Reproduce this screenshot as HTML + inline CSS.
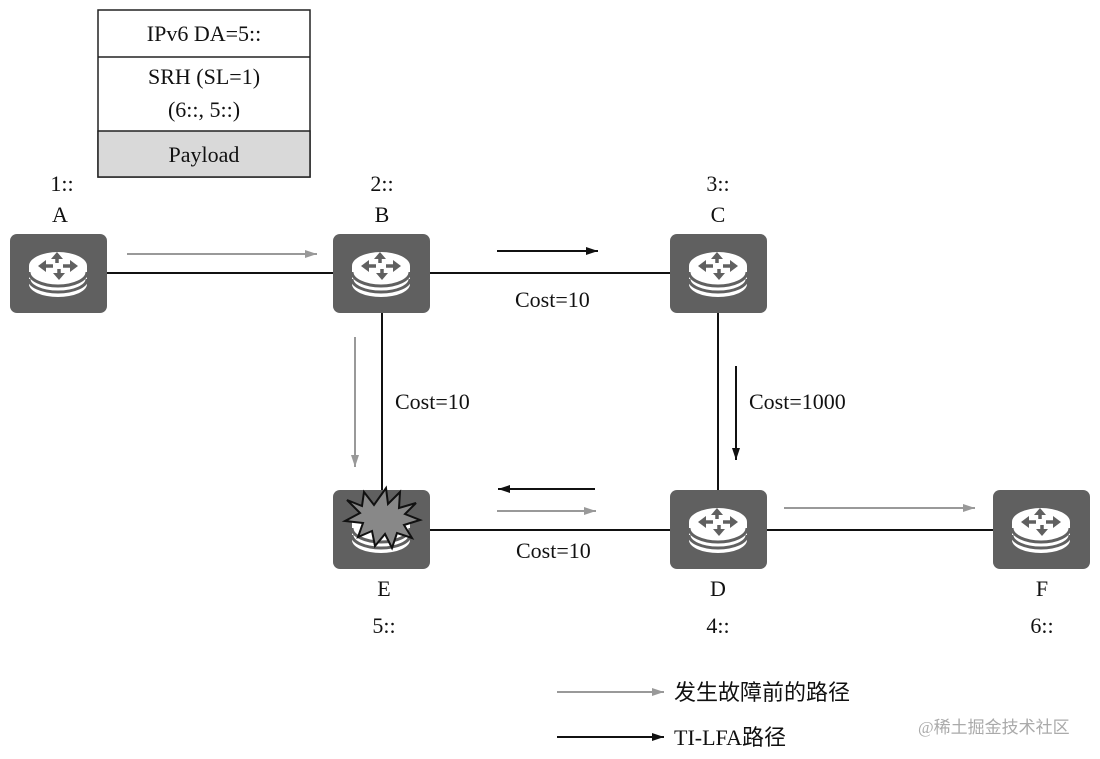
<!DOCTYPE html>
<html><head><meta charset="utf-8"><style>
body{margin:0;background:#fff;}
svg{display:block;}
text{font-family:"Liberation Serif",serif;font-size:22px;fill:#111;}
.cn{font-family:"Liberation Serif","Noto Sans CJK SC",sans-serif;}
</style></head><body>
<svg width="1100" height="759" viewBox="0 0 1100 759" xmlns="http://www.w3.org/2000/svg">
<defs>
<marker id="ag" markerWidth="12" markerHeight="8" refX="12" refY="4" orient="auto" markerUnits="userSpaceOnUse"><path d="M0,0 L12,4 L0,8 Z" fill="#999"/></marker>
<marker id="ab" markerWidth="12" markerHeight="8" refX="12" refY="4" orient="auto" markerUnits="userSpaceOnUse"><path d="M0,0 L12,4 L0,8 Z" fill="#111"/></marker>
<g id="rt">
<rect x="0" y="0" width="97" height="79" rx="7" fill="#606060"/>
<path d="M19,32 v18 a29,13 0 0 0 58,0 v-18 Z" fill="#fff"/>
<path d="M19,38 a29,14 0 0 0 58,0" fill="none" stroke="#606060" stroke-width="3"/>
<path d="M19,45 a29,13 0 0 0 58,0" fill="none" stroke="#606060" stroke-width="3"/>
<ellipse cx="48" cy="32" rx="29" ry="14" fill="#fff"/>
<g stroke="#606060" stroke-width="3.5" fill="none">
<line x1="33" y1="32" x2="43" y2="32"/><line x1="53" y1="32" x2="63" y2="32"/>
<line x1="47" y1="23" x2="47" y2="29"/><line x1="49" y1="35" x2="49" y2="41"/>
</g>
<path d="M28,32 l8,-6 v12 Z M68,32 l-8,-6 v12 Z M47,18 l-6,7 h12 Z M49,46 l-6,-7 h12 Z" fill="#606060"/>
</g>
</defs>

<rect x="98" y="10" width="212" height="167" fill="#fff" stroke="#222" stroke-width="1.5"/>
<rect x="98" y="131" width="212" height="46" fill="#d9d9d9" stroke="#222" stroke-width="1.5"/>
<line x1="98" y1="57" x2="310" y2="57" stroke="#222" stroke-width="1.5"/>
<text x="204" y="41" text-anchor="middle">IPv6 DA=5::</text>
<text x="204" y="84" text-anchor="middle">SRH (SL=1)</text>
<text x="204" y="117" text-anchor="middle">(6::, 5::)</text>
<text x="204" y="162" text-anchor="middle">Payload</text>

<g stroke="#111" stroke-width="2">
<line x1="107" y1="273" x2="333" y2="273"/>
<line x1="430" y1="273" x2="670" y2="273"/>
<line x1="382" y1="313" x2="382" y2="490"/>
<line x1="718" y1="313" x2="718" y2="490"/>
<line x1="430" y1="530" x2="670" y2="530"/>
<line x1="767" y1="530" x2="993" y2="530"/>
</g>

<use href="#rt" x="10" y="234"/>
<use href="#rt" x="333" y="234"/>
<use href="#rt" x="670" y="234"/>
<use href="#rt" x="333" y="490"/>
<use href="#rt" x="670" y="490"/>
<use href="#rt" x="993" y="490"/>
<path d="M347,500 L362,506 L364,492 L374,505 L386,488 L388,504 L400,492 L399,508 L416,503 L405,514 L420,520 L404,525 L412,538 L397,533 L392,548 L385,534 L375,546 L372,531 L358,537 L363,523 L345,521 L360,513 Z" fill="#888" stroke="#111" stroke-width="2"/>

<g stroke-width="2" fill="none">
<line x1="127" y1="254" x2="317" y2="254" stroke="#999" marker-end="url(#ag)"/>
<line x1="497" y1="251" x2="598" y2="251" stroke="#111" marker-end="url(#ab)"/>
<line x1="355" y1="337" x2="355" y2="467" stroke="#999" marker-end="url(#ag)"/>
<line x1="736" y1="366" x2="736" y2="460" stroke="#111" marker-end="url(#ab)"/>
<line x1="595" y1="489" x2="498" y2="489" stroke="#111" marker-end="url(#ab)"/>
<line x1="497" y1="511" x2="596" y2="511" stroke="#999" marker-end="url(#ag)"/>
<line x1="784" y1="508" x2="975" y2="508" stroke="#999" marker-end="url(#ag)"/>
<line x1="557" y1="692" x2="664" y2="692" stroke="#999" marker-end="url(#ag)"/>
<line x1="557" y1="737" x2="664" y2="737" stroke="#111" marker-end="url(#ab)"/>
</g>

<text x="62" y="191" text-anchor="middle">1::</text>
<text x="60" y="222" text-anchor="middle">A</text>
<text x="382" y="191" text-anchor="middle">2::</text>
<text x="382" y="222" text-anchor="middle">B</text>
<text x="718" y="191" text-anchor="middle">3::</text>
<text x="718" y="222" text-anchor="middle">C</text>
<text x="384" y="596" text-anchor="middle">E</text>
<text x="384" y="633" text-anchor="middle">5::</text>
<text x="718" y="596" text-anchor="middle">D</text>
<text x="718" y="633" text-anchor="middle">4::</text>
<text x="1042" y="596" text-anchor="middle">F</text>
<text x="1042" y="633" text-anchor="middle">6::</text>
<text x="515" y="307">Cost=10</text>
<text x="395" y="409">Cost=10</text>
<text x="749" y="409">Cost=1000</text>
<text x="516" y="558">Cost=10</text>
<text class="cn" x="674" y="700">发生故障前的路径</text>
<text class="cn" x="674" y="745">TI-LFA路径</text>
<text class="cn" x="918" y="733" style="font-size:17px;fill:#aaa">@稀土掘金技术社区</text>
</svg>
</body></html>
